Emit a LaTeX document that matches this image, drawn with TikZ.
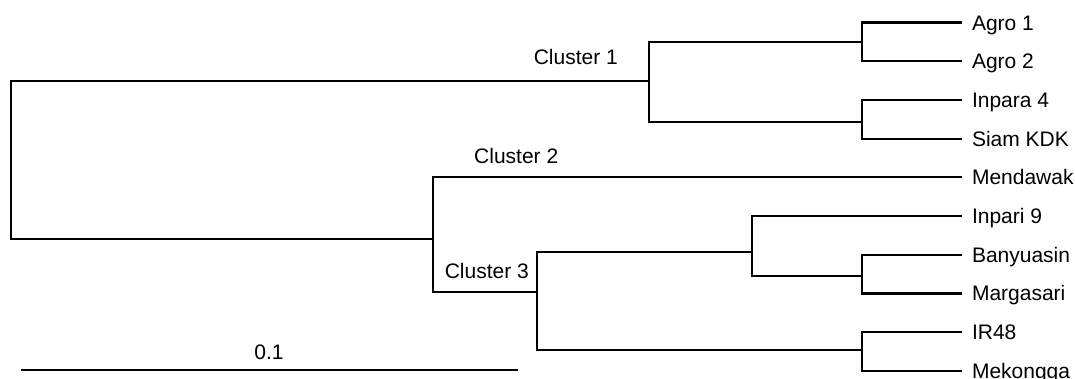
\documentclass[tikz,border=0pt]{standalone}
\usepackage{fontspec}
\setmainfont{Liberation Sans}
\begin{document}
\begin{tikzpicture}[x=1pt,y=-1pt,
  branch/.style={line width=2.2pt, line join=miter, draw=black},
  leaf/.style={anchor=west, inner sep=0pt, outer xsep=10pt, text height=15pt, text depth=0pt, font=\fontsize{21}{25}\selectfont},
  lab/.style={inner sep=0pt, text height=15pt, text depth=0pt, font=\fontsize{21}{25}\selectfont}]
\useasboundingbox (0,0) rectangle (1075,378);
% internal nodes
\coordinate (root) at (11,160);
\coordinate (c1) at (649,81);
\coordinate (a) at (862,42);
\coordinate (b) at (862,122);
\coordinate (c23) at (433,239);
\coordinate (c3) at (537,292);
\coordinate (e) at (752,252);
\coordinate (d) at (862,276);
\coordinate (f) at (862,350);
% leaves
\node[leaf] (agro1) at (962,22.5) {Agro 1};
\node[leaf] (agro2) at (962,61.2) {Agro 2};
\node[leaf] (inpara4) at (962,99.9) {Inpara 4};
\node[leaf] (siam) at (962,138.6) {Siam KDK};
\node[leaf] (mendawak) at (962,177.3) {Mendawak};
\node[leaf] (inpari9) at (962,216) {Inpari 9};
\node[leaf] (banyuasin) at (962,254.7) {Banyuasin};
\node[leaf] (margasari) at (962,293.4) {Margasari};
\node[leaf] (ir48) at (962,332.1) {IR48};
\node[leaf] (mekongga) at (962,370.8) {Mekongga};
% branches
\draw[branch] (root) |- (c1);
\draw[branch] (root) |- (c23);
\draw[branch] (c1) |- (a);
\draw[branch] (c1) |- (b);
\draw[branch] (a) |- (agro1.west);
\draw[branch] (a) |- (agro2.west);
\draw[branch] (b) |- (inpara4.west);
\draw[branch] (b) |- (siam.west);
\draw[branch] (c23) |- (mendawak.west);
\draw[branch] (c23) |- (c3);
\draw[branch] (c3) |- (e);
\draw[branch] (c3) |- (f);
\draw[branch] (e) |- (inpari9.west);
\draw[branch] (e) |- (d);
\draw[branch] (d) |- (banyuasin.west);
\draw[branch] (d) |- (margasari.west);
\draw[branch] (f) |- (ir48.west);
\draw[branch] (f) |- (mekongga.west);
% cluster labels
\node[lab, anchor=east] (cl1) at (618,57) {Cluster 1};
\node[lab, anchor=west] (cl2) at (474,156) {Cluster 2};
\node[lab, anchor=east] (cl3) at (529,271) {Cluster 3};
% scale bar
\coordinate (s0) at (21,370);
\coordinate (s1) at (518,370);
\draw[branch] (s0) -- (s1);
\node[lab] (scale) at (269,352) {0.1};
\end{tikzpicture}
\end{document}
